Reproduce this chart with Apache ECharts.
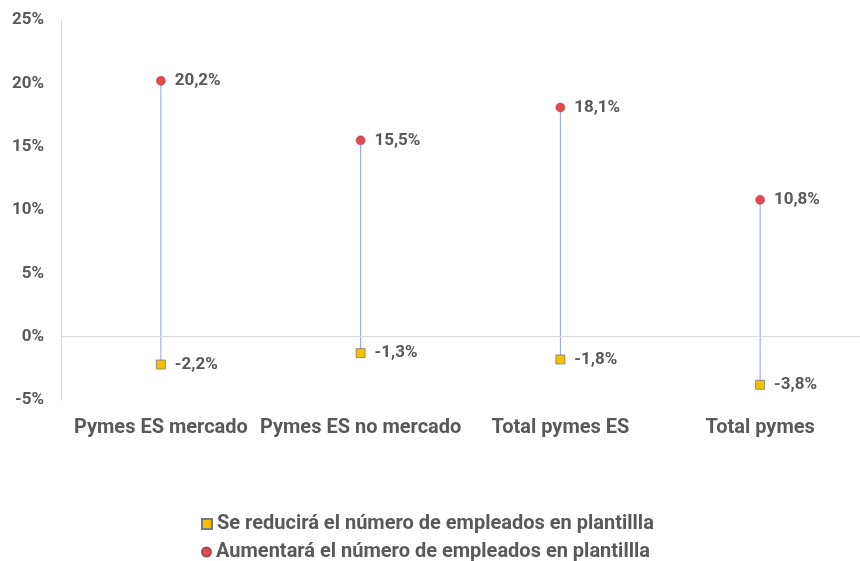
<!DOCTYPE html>
<html>
<head>
<meta charset="utf-8">
<script src="https://cdn.jsdelivr.net/npm/echarts@6/dist/echarts.min.js"></script>
<style>
  html, body { margin: 0; padding: 0; background: #fff; }
  #chart { width: 860px; height: 561px; }
</style>
</head>
<body>
<div id="chart"></div>
<script>
// datos
var categorias = ['Pymes ES mercado', 'Pymes ES no mercado', 'Total pymes ES', 'Total pymes'];
var reducira = [-2.2, -1.3, -1.8, -3.8];
var aumentara = [20.2, 15.5, 18.1, 10.8];
var nombreReducira = 'Se reducirá el número de empleados en plantillla';
var nombreAumentara = 'Aumentará el número de empleados en plantillla';

var gris = '#595959';
var fuente = 'Roboto';

function pct(v) {
  return v.toFixed(1).replace('.', ',') + '%';
}

// lineas verticales entre los dos puntos
var rangos = categorias.map(function (c, i) {
  return [i, reducira[i], aumentara[i]];
});

var chart = echarts.init(document.getElementById('chart'));

var etiqueta = {
  show: true,
  position: 'right',
  distance: 9,
  color: gris,
  fontFamily: fuente,
  fontWeight: 'bold',
  fontSize: 17,
  formatter: function (p) { return pct(p.value); }
};

// una leyenda por fila
var textoLeyenda = { color: gris, fontFamily: fuente, fontWeight: 'bold', fontSize: 20 };

var option = {
  backgroundColor: '#fff',
  animation: false,
  grid: { left: 61, right: -15, top: 20, bottom: 161, containLabel: false },
  legend: [
    {
      left: 196,
      top: 509,
      itemWidth: 10,
      itemHeight: 10,
      textStyle: textoLeyenda,
      data: [{ name: nombreReducira, icon: 'rect' }]
    },
    {
      left: 196,
      top: 537,
      itemWidth: 9,
      itemHeight: 9,
      textStyle: textoLeyenda,
      data: [{ name: nombreAumentara, icon: 'circle' }]
    }
  ],
  xAxis: {
    type: 'category',
    data: categorias,
    axisLine: { show: false },
    axisTick: { show: false },
    axisLabel: {
      color: gris,
      fontFamily: fuente,
      fontWeight: 'bold',
      fontSize: 20,
      margin: 18,
      interval: 0
    }
  },
  yAxis: {
    type: 'value',
    min: -5,
    max: 25,
    interval: 5,
    axisLine: { show: true, lineStyle: { color: '#d9d9d9', width: 1 } },
    axisTick: { show: false },
    splitLine: { show: false },
    axisLabel: {
      color: gris,
      fontFamily: fuente,
      fontWeight: 'bold',
      fontSize: 17,
      margin: 17,
      formatter: function (v) { return v + '%'; }
    }
  },
  series: [
    {
      type: 'custom',
      silent: true,
      z: 1,
      data: rangos,
      renderItem: function (params, api) {
        var a = api.coord([api.value(0), api.value(1)]);
        var b = api.coord([api.value(0), api.value(2)]);
        return {
          type: 'line',
          shape: { x1: a[0], y1: a[1], x2: b[0], y2: b[1] },
          style: { stroke: '#8da2e3', lineWidth: 1 }
        };
      },
      markLine: {
        silent: true,
        symbol: 'none',
        label: { show: false },
        lineStyle: { color: '#d9d9d9', type: 'solid', width: 1 },
        data: [{ yAxis: 0 }]
      }
    },
    {
      name: nombreReducira,
      type: 'line',
      data: reducira,
      z: 3,
      lineStyle: { width: 0, opacity: 0 },
      symbol: 'rect',
      symbolSize: 9,
      itemStyle: { color: '#f4c000', borderColor: '#7b7b7b', borderWidth: 0.8 },
      label: etiqueta
    },
    {
      name: nombreAumentara,
      type: 'line',
      data: aumentara,
      z: 3,
      lineStyle: { width: 0, opacity: 0 },
      symbol: 'circle',
      symbolSize: 9,
      itemStyle: { color: '#e8474c', borderColor: '#a04a5a', borderWidth: 0.6 },
      label: etiqueta
    }
  ]
};

chart.setOption(option);
</script>
</body>
</html>
